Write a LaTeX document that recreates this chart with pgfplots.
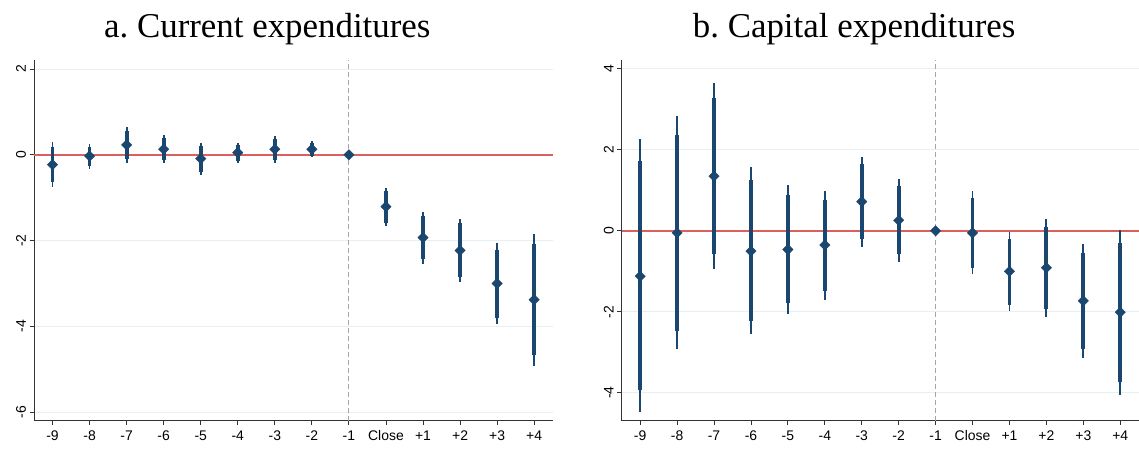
\documentclass[border=0pt]{standalone}
\usepackage{fontspec}
\setmainfont{Liberation Serif}
\setsansfont{Liberation Sans}
\usepackage{pgfplots}
\usepackage{pgfplotstable}
\pgfplotsset{compat=1.18}
\frenchspacing
\definecolor{navy}{RGB}{26,71,111}
\definecolor{zerored}{RGB}{220,95,95}
\definecolor{gridc}{RGB}{230,240,243}
\definecolor{vline}{RGB}{165,165,165}

\pgfplotstableread{
x y lo hi ilo ihi
0 -0.23 -0.75 0.29 -0.63 0.19
1 -0.03 -0.33 0.26 -0.25 0.18
2 0.23 -0.18 0.64 -0.10 0.55
3 0.13 -0.20 0.47 -0.13 0.40
4 -0.09 -0.48 0.28 -0.40 0.20
5 0.05 -0.20 0.28 -0.14 0.22
6 0.13 -0.18 0.44 -0.12 0.37
7 0.13 -0.06 0.32 -0.02 0.27
8 0 0 0 0 0
9 -1.21 -1.66 -0.77 -1.58 -0.85
10 -1.93 -2.54 -1.33 -2.44 -1.42
11 -2.23 -2.96 -1.49 -2.85 -1.60
12 -3.00 -3.95 -2.05 -3.80 -2.23
13 -3.38 -4.93 -1.84 -4.66 -2.09
}\current

\pgfplotstableread{
x y lo hi ilo ihi
0 -1.12 -4.47 2.26 -3.93 1.72
1 -0.05 -2.93 2.84 -2.47 2.37
2 1.35 -0.95 3.66 -0.58 3.29
3 -0.50 -2.56 1.58 -2.22 1.25
4 -0.46 -2.06 1.14 -1.79 0.89
5 -0.35 -1.70 0.98 -1.48 0.76
6 0.72 -0.40 1.83 -0.21 1.65
7 0.26 -0.77 1.28 -0.58 1.10
8 0 0 0 0 0
9 -0.05 -1.07 0.98 -0.91 0.81
10 -1.00 -1.98 -0.02 -1.84 -0.19
11 -0.91 -2.12 0.30 -1.92 0.10
12 -1.73 -3.13 -0.32 -2.91 -0.54
13 -2.01 -4.06 0.03 -3.73 -0.29
}\capital

\pgfplotsset{
  panel/.style={
    scale only axis,
    anchor=south west,
    height=360.7bp,
    xmin=-0.5, xmax=13.5,
    axis x line*=bottom,
    axis y line*=left,
    axis line style={draw=black!80, line width=0.9bp},
    xtick={0,...,13},
    xticklabels={-9,-8,-7,-6,-5,-4,-3,-2,-1,Close,+1,+2,+3,+4},
    tick align=outside,
    major tick length=4.5bp,
    tick style={draw=black!80, line width=0.9bp},
    ticklabel style={font=\sffamily\fontsize{14}{16}\selectfont},
    xticklabel style={yshift=-2bp},
    yticklabel style={rotate=90, anchor=south},
    ymajorgrids,
    major grid style={draw=gridc, line width=1bp},
    title style={at={(0.5,1)}, anchor=base, yshift=16.5bp, xshift=-26bp,
                 font=\fontsize{35}{38}\selectfont},
    clip=false,
  },
  ciouter/.style={only marks, mark=none, forget plot,
    error bars/.cd, y dir=both, y explicit, error mark=none,
    error bar style={draw=navy, line width=1.8bp, line cap=butt}},
  ciinner/.style={only marks, mark=none, forget plot,
    error bars/.cd, y dir=both, y explicit, error mark=none,
    error bar style={draw=navy, line width=3.8bp, line cap=butt}},
  pts/.style={only marks, mark=square*, mark size=3.7bp,
    mark options={rotate=45, fill=navy, draw=navy, line width=0.3bp}},
}

\begin{document}
\begin{tikzpicture}
\useasboundingbox (0,0) rectangle (1139bp,451bp);
% Panel a
\begin{axis}[panel, at={(34bp,30.3bp)}, width=518.7bp,
  ymin=-6.2, ymax=2.21,
  ytick={-6,-4,-2,0,2}, yticklabels={-6,-4,-2,0,2},
  title={a. Current expenditures}]
\addplot[zerored, line width=1.8bp] coordinates {(-0.5,0) (13.5,0)};
\addplot[vline, line width=1.1bp, dash pattern=on 5bp off 3bp] coordinates {(8,-6.2) (8,2.21)};
\addplot[ciouter] table[x=x, y=y,
  y error plus expr=\thisrow{hi}-\thisrow{y},
  y error minus expr=\thisrow{y}-\thisrow{lo}] {\current};
\addplot[ciinner] table[x=x, y=y,
  y error plus expr=\thisrow{ihi}-\thisrow{y},
  y error minus expr=\thisrow{y}-\thisrow{ilo}] {\current};
\addplot[pts] table[x=x, y=y] {\current};
\end{axis}
% Panel b
\begin{axis}[panel, at={(621.7bp,30.3bp)}, width=517bp,
  ymin=-4.69, ymax=4.22,
  ytick={-4,-2,0,2,4}, yticklabels={-4,-2,0,2,4},
  title={b. Capital expenditures}]
\addplot[zerored, line width=1.8bp] coordinates {(-0.5,0) (13.5,0)};
\addplot[vline, line width=1.1bp, dash pattern=on 5bp off 3bp] coordinates {(8,-4.69) (8,4.22)};
\addplot[ciouter] table[x=x, y=y,
  y error plus expr=\thisrow{hi}-\thisrow{y},
  y error minus expr=\thisrow{y}-\thisrow{lo}] {\capital};
\addplot[ciinner] table[x=x, y=y,
  y error plus expr=\thisrow{ihi}-\thisrow{y},
  y error minus expr=\thisrow{y}-\thisrow{ilo}] {\capital};
\addplot[pts] table[x=x, y=y] {\capital};
\end{axis}
\end{tikzpicture}
\end{document}
